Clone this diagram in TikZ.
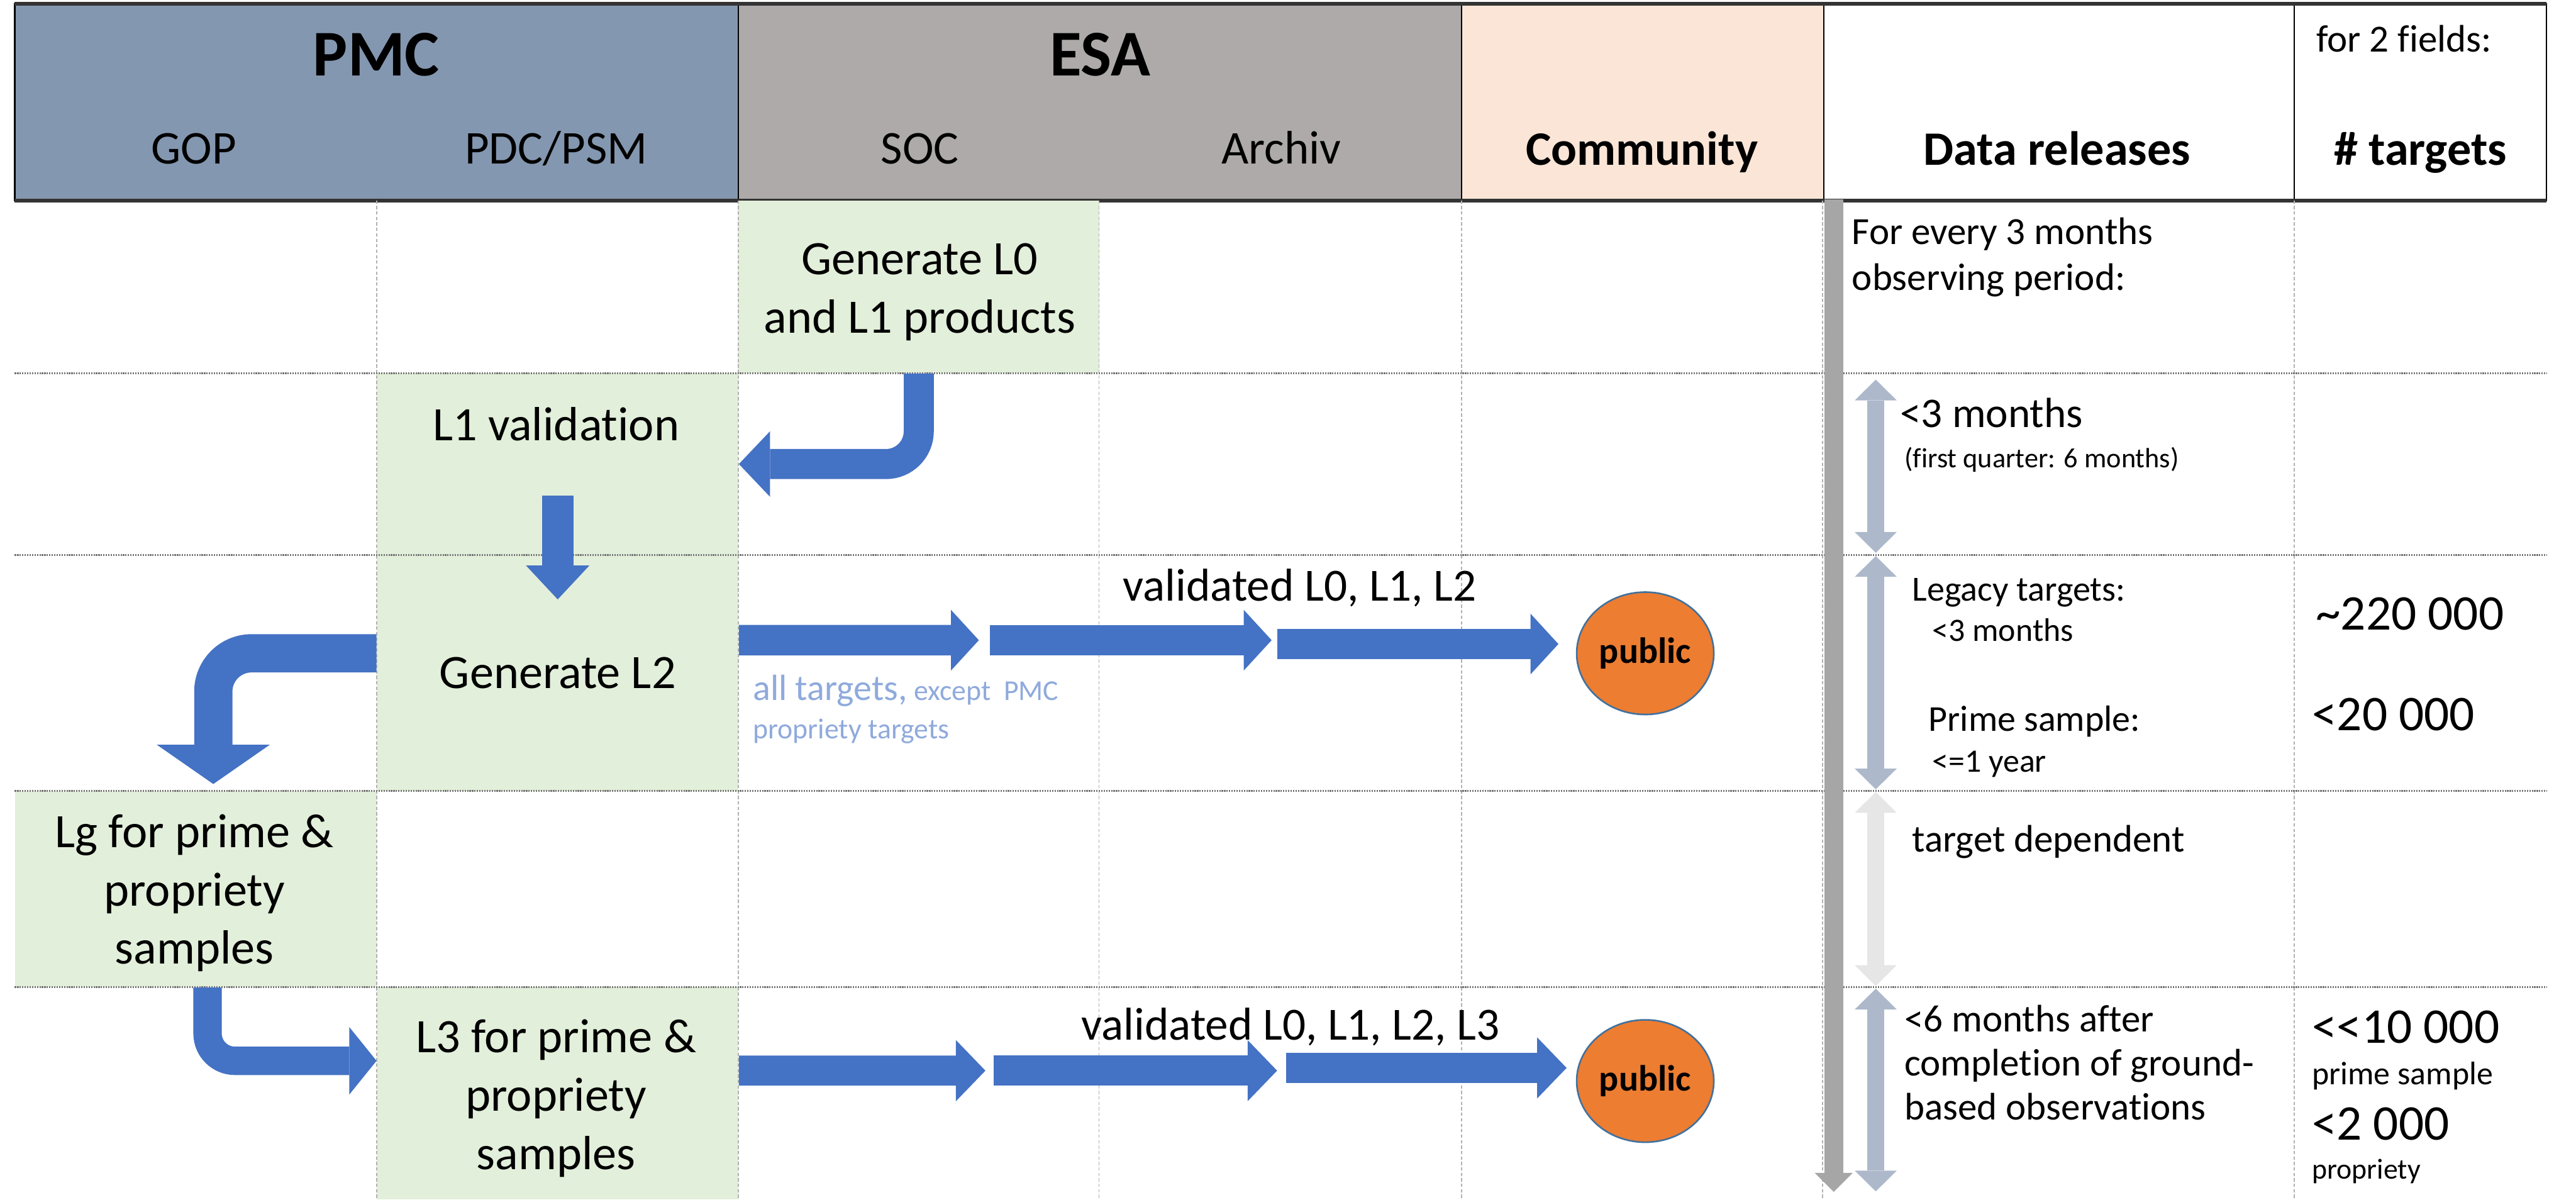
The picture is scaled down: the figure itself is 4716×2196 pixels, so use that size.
\documentclass[tikz,border=0pt]{standalone}
\usepackage{fontspec}
\setmainfont{Carlito}[Ligatures=NoCommon]
\usetikzlibrary{arrows.meta,shapes.geometric}

\definecolor{pmcblue}{HTML}{8497B0}
\definecolor{esagray}{HTML}{AEAAAA}
\definecolor{commpeach}{HTML}{FBE5D6}
\definecolor{cellgreen}{HTML}{E2EFDA}
\definecolor{flowblue}{HTML}{4472C4}
\definecolor{pubor}{HTML}{ED7D31}
\definecolor{pubedge}{HTML}{41719C}
\definecolor{periodblue}{HTML}{ADB9CA}
\definecolor{periodgray}{HTML}{E7E6E6}
\definecolor{timegray}{HTML}{A6A6A6}
\definecolor{notecol}{HTML}{8FAADC}

\newcommand{\fsz}[2]{\fontsize{#1pt}{#2pt}\selectfont}

\tikzset{
  rowline/.style={black!55, line width=0.35mm, dash pattern=on 0.25mm off 0.2mm},
  colline/.style={black!30, line width=0.2mm, dash pattern=on 0.6mm off 0.4mm},
  cell/.style={fill=cellgreen, inner sep=0pt, minimum width=66.2mm},
  body/.style={font=\fsz{25}{30.4}, align=center, inner sep=0pt},
  sub/.style={font=\fsz{24.5}{29}, anchor=base, inner sep=0pt},
  subb/.style={font=\fsz{25}{30}\bfseries, anchor=base, inner sep=0pt},
  side/.style={anchor=base west, inner sep=0pt},
  flow/.style n args={3}{flowblue, line width=#1, -{Triangle[width=#2,length=#3,line width=0pt]}},
  period/.style={line width=3.2mm, {Triangle[width=7.7mm,length=3.8mm,line width=0pt]}-{Triangle[width=7.7mm,length=3.8mm,line width=0pt]}},
  pub/.style={ellipse, fill=pubor, draw=pubedge, line width=0.3mm, minimum width=25.1mm,
    minimum height=22.4mm, inner sep=0pt, font=\fsz{19}{23}\bfseries},
}

\begin{document}
\begin{tikzpicture}[x=0.1mm, y=-0.1mm]
  \useasboundingbox (0,0) rectangle (4716,2196);

  % header
  \fill[pmcblue] (27,7) rectangle (1352,367);
  \fill[esagray] (1352,7) rectangle (2676,367);
  \fill[commpeach] (2676,7) rectangle (3339,367);
  \draw[line width=0.25mm] (27,7) rectangle (4662,367);
  \draw[line width=0.25mm] (1352,7) -- (1352,367);
  \draw[line width=0.25mm] (2676,7) -- (2676,367);
  \draw[line width=0.25mm] (3339,7) -- (3339,367);
  \draw[line width=0.25mm] (4200,7) -- (4200,367);
  \draw[line width=0.6mm, black!80] (27,7) -- (4662,7);
  \draw[line width=0.7mm, black!80] (27,367) -- (4662,367);

  \node[font=\fsz{34}{40}\bfseries, inner sep=0pt] (pmc) at (689,100) {PMC};
  \node[font=\fsz{34}{40}\bfseries, inner sep=0pt] (esa) at (2014,100) {ESA};
  \node[sub] (gop) at (355,300) {GOP};
  \node[sub] (pdc) at (1018,300) {PDC/PSM};
  \node[sub] (soc) at (1684,300) {SOC};
  \node[sub] (arch) at (2346,300) {Archiv};
  \node[subb] (comm) at (3006,302) {Community};
  \node[subb] (rel) at (3766,302) {Data releases};
  \node[subb] (ntgt) at (4431,302) {\# targets};
  \node[font=\fsz{20}{24}, anchor=base, inner sep=0pt] (fields) at (4401,95) {for 2 fields:};

  % green cells
  \node[cell, minimum height=31.6mm] (cgen0) at (1682,525) {};
  \node[cell, minimum height=33.3mm] (cl1) at (1021,849.5) {};
  \node[cell, minimum height=43.2mm] (cgen2) at (1021,1232) {};
  \node[cell, minimum height=35.9mm] (clg) at (358.5,1627.5) {};
  \node[cell, minimum height=38.9mm] (cl3) at (1021,2001.5) {};

  % grid
  \draw[colline] (690,367) -- (690,2196);
  \draw[colline] (1352,367) -- (1352,2196);
  \draw[colline] (2012,367) -- (2012,2196);
  \draw[colline] (2676,367) -- (2676,2196);
  \draw[colline] (3337,367) -- (3337,2196);
  \draw[colline] (4200,367) -- (4200,2196);
  \draw[rowline] (27,683) -- (4662,683);
  \draw[rowline] (27,1016) -- (4662,1016);
  \draw[rowline] (27,1448) -- (4662,1448);
  \draw[rowline] (27,1807) -- (4662,1807);

  % release time line
  \coordinate (tl0) at (3357,365);
  \coordinate (tl1) at (3357,2182);
  \draw[timegray, line width=3.5mm, -{Triangle[width=7mm,length=3.5mm,line width=0pt]}] (tl0) -- (tl1);

  \coordinate (r1) at (3434,683);
  \coordinate (r2) at (3434,1016);
  \coordinate (r3) at (3434,1448);
  \coordinate (r4) at (3434,1807);
  \coordinate (r5) at (3434,2181);
  \draw[period, periodblue, shorten <=1.2mm, shorten >=0.4mm] (r1) -- (r2);
  \draw[period, periodblue, shorten <=0.2mm, shorten >=0.3mm] (r2) -- (r3);
  \draw[period, periodgray, shorten <=0.2mm, shorten >=0.2mm] (r3) -- (r4);
  \draw[period, periodblue, shorten <=0.3mm] (r4) -- (r5);

  % flows
  \draw[flow={5.5mm}{12mm}{5.7mm}, rounded corners=6mm] (cgen0.south) |- (cl1.east);
  \draw[flow={5.8mm}{11.6mm}{6.2mm}] ([yshift=-5.75mm]cl1.center) -- ([yshift=-8.2mm]cgen2.north);
  \draw[flow={7mm}{20.7mm}{7.2mm}, rounded corners=7mm] ([yshift=3.6mm]cgen2.west) -| ([xshift=3.2mm,yshift=1.2mm]clg.north);
  \draw[flow={5.2mm}{12.4mm}{5mm}, rounded corners=5mm] ([xshift=2.15mm]clg.south) |- ([yshift=5.95mm]cl3.west);

  \node[pub] (pub1) at (3012,1196) {public};
  \node[pub] (pub2) at (3012,1979) {public};

  \coordinate (m3b) at (1812,1172);
  \coordinate (m3c) at (2338,1179);
  \draw[flow={5.6mm}{11.1mm}{5.1mm}, shorten >=2mm] ([yshift=6mm]cgen2.east) -- (m3b);
  \draw[flow={5.6mm}{11.1mm}{5.1mm}, shorten >=1mm] (m3b) -- (m3b -| m3c);
  \draw[flow={5.6mm}{11.1mm}{5.1mm}, shorten >=3.2mm] (m3c) -- (m3c -| pub1.west);

  \coordinate (m5b) at (1819,1960);
  \coordinate (m5c) at (2354,1955);
  \draw[flow={5.5mm}{11.2mm}{5.4mm}, shorten >=1.5mm] ([yshift=4.15mm]cl3.east) -- (m5b);
  \draw[flow={5.5mm}{11.2mm}{5.4mm}, shorten >=1.6mm] (m5b) -- (m5b -| m5c);
  \draw[flow={5.5mm}{11.2mm}{5.4mm}, shorten >=1.7mm] (m5c) -- (m5c -| pub2.west);

  % texts
  \node[body] (gen0) at (1684,535) {Generate L0\\and L1 products};
  \node[body, anchor=base] (l1val) at (1018,806) {L1 validation};
  \node[body, anchor=base] (gen2) at (1021,1260) {Generate L2};
  \node[body] (lg) at (356,1635) {Lg for prime \&\\propriety\\samples};
  \node[body] (l3) at (1018,2011) {L3 for prime \&\\propriety\\samples};

  \node[side, font=\fsz{24}{28}] (val3) at (2055,1100) {validated L0, L1, L2};
  \node[side, font=\fsz{24}{28}] (val5) at (1979,1904) {validated L0, L1, L2, L3};
  \node[anchor=north west, inner sep=0pt, align=left, text=notecol, font=\fsz{15}{20}] (note3) at (1378,1235)
    {{\fsz{19}{20}all targets,} except\ \ PMC\\propriety targets};

  \node[anchor=north west, inner sep=0pt, align=left, font=\fsz{20}{24}] (every) at (3390,398)
    {For every 3 months\\observing period:};
  \node[side, font=\fsz{22}{26}] (per1) at (3478,782) {<3 months};
  \node[side, font=\fsz{14.5}{17}] (per1b) at (3486,856) {(first quarter: 6 months)};
  \node[side, font=\fsz{18.4}{22}] (legacy) at (3500,1100) {Legacy targets:};
  \node[side, font=\fsz{17}{20}] (legacyt) at (3537,1174) {<3 months};
  \node[side, font=\fsz{19}{22}] (prime) at (3530,1339) {Prime sample:};
  \node[side, font=\fsz{17}{20}] (primet) at (3537,1413) {<=1 year};
  \node[side, font=\fsz{20}{24}] (tdep) at (3500,1559) {target dependent};
  \node[anchor=north west, inner sep=0pt, align=left, font=\fsz{20}{23}] (after) at (3486,1839)
    {<6 months after\\completion of ground-\\based observations};

  \node[side, font=\fsz{26}{30}] (n220) at (4239,1153) {\textasciitilde220 000};
  \node[side, font=\fsz{26}{30}] (n20) at (4232,1337) {<20 000};
  \node[side, font=\fsz{26}{30}] (n10) at (4232,1910) {<\kern0pt<10 000};
  \node[side, font=\fsz{17}{20}] (n10t) at (4232,1985) {prime sample};
  \node[side, font=\fsz{26}{30}] (n2) at (4232,2087) {<2 000};
  \node[side, font=\fsz{15}{18}] (n2t) at (4232,2158) {propriety};
\end{tikzpicture}
\end{document}
